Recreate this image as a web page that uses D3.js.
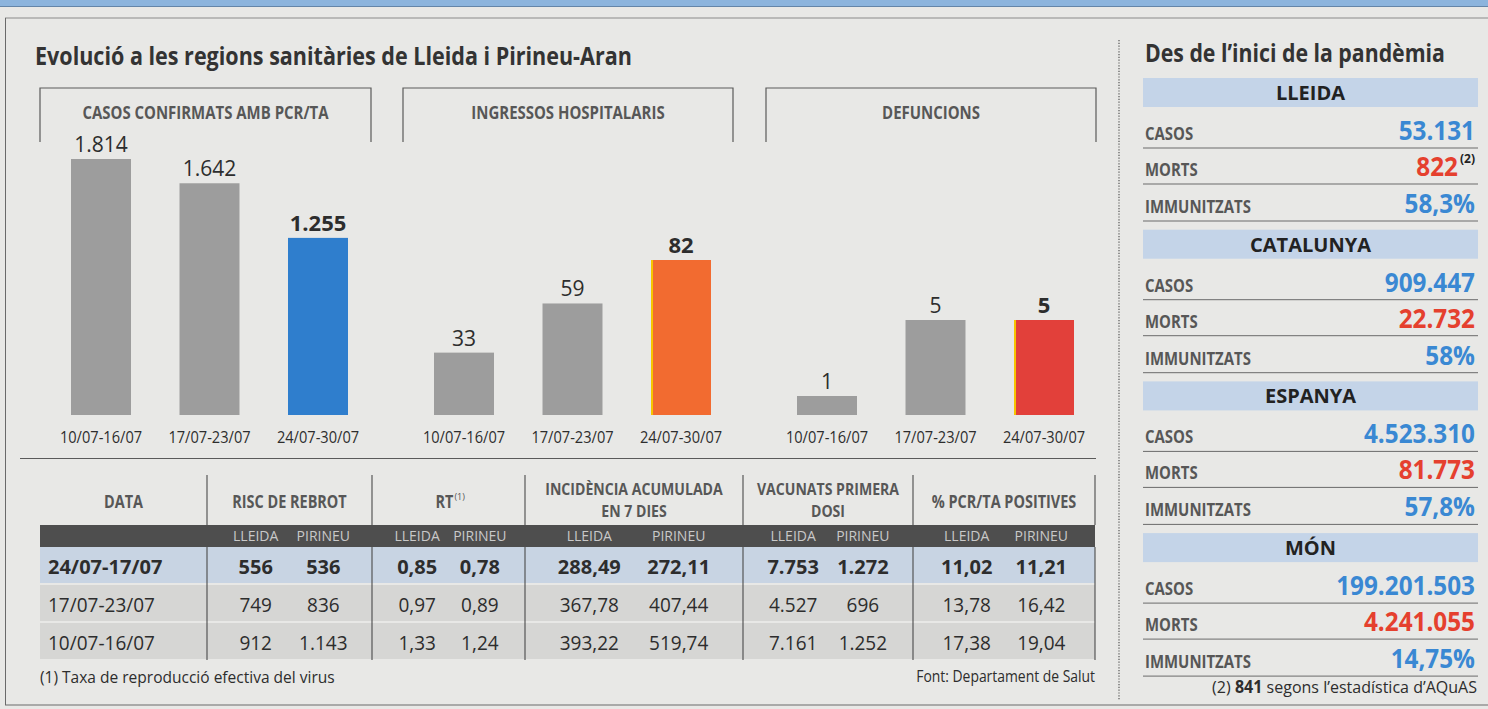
<!DOCTYPE html>
<html><head><meta charset="utf-8">
<script src="https://cdn.jsdelivr.net/npm/d3@7"></script>
<style>
html,body{margin:0;padding:0;background:#e8e8e6;}
svg{display:block;font-family:"Open Sans","Noto Sans",sans-serif;}
</style></head>
<body><svg id="c" width="1488" height="709"></svg>
<script>
// ---------- DATA ----------
const weeks = ["10/07-16/07", "17/07-23/07", "24/07-30/07"];
const chartTitles = ["CASOS CONFIRMATS AMB PCR/TA", "INGRESSOS HOSPITALARIS", "DEFUNCIONS"];
const casosSetmana = [1814, 1642, 1255];
const ingressos = [33, 59, 82];
const defuncions = [1, 5, 5];

const tableDates = ["24/07-17/07", "17/07-23/07", "10/07-16/07"];
const tableHeads = [["RISC DE REBROT"], ["RT"], ["INCIDÈNCIA ACUMULADA", "EN 7 DIES"], ["VACUNATS PRIMERA", "DOSI"], ["% PCR/TA POSITIVES"]];
const subHeads = ["LLEIDA", "PIRINEU"];
const riscLleida = [556, 749, 912];
const riscPirineu = [536, 836, 1143];
const rtLleida = [0.85, 0.97, 1.33];
const rtPirineu = [0.78, 0.89, 1.24];
const iaLleida = [288.49, 367.78, 393.22];
const iaPirineu = [272.11, 407.44, 519.74];
const vacLleida = [7753, 4527, 7161];
const vacPirineu = [1272, 696, 1252];
const pcrLleida = [11.02, 13.78, 17.38];
const pcrPirineu = [11.21, 16.42, 19.04];

const regions = ["LLEIDA", "CATALUNYA", "ESPANYA", "MÓN"];
const rowLabels = ["CASOS", "MORTS", "IMMUNITZATS"];
const totalCasos = [53131, 909447, 4523310, 199201503];
const totalMorts = [822, 22732, 81773, 4241055];
const mortsNote = ["(2)", "", "", ""];
const immunitzats = [58.3, 58, 57.8, 14.75];

// ---------- HELPERS ----------
const loc = d3.formatLocale({decimal: ",", thousands: ".", grouping: [3], currency: ["", "€"]});
const fInt = loc.format(",d");
const f2 = loc.format(",.2f");
const fPct = v => loc.format(",")(v) + "%";

const svg = d3.select("#c");
const INK = "#2d2d2d", HEAD = "#575757", GREY = "#9d9d9d";

// text drawn at (x,y), horizontally condensed by factor k (or to width fitW) via a scale transform
function T(parent, str, x, y, size, weight, fill, anchor, k, fitW) {
  const t = parent.append("text").attr("x", 0).attr("y", 0)
    .attr("transform", `translate(${x},${y})`)
    .attr("font-size", size).attr("font-weight", weight)
    .attr("fill", fill).attr("text-anchor", anchor || "start");
  if (typeof str === "string") t.text(str); else str(t);
  const w = t.node().getComputedTextLength();
  const s = fitW ? fitW / w : (k || 1);
  if (s !== 1) t.attr("transform", `translate(${x},${y}) scale(${s.toFixed(4)},1)`);
  t.property("__w", w * s);
  return t;
}

// ---------- FRAME ----------
svg.append("rect").attr("width", 1488).attr("height", 709).attr("fill", "#e8e8e6");
svg.append("rect").attr("x", 0).attr("y", 0).attr("width", 1488).attr("height", 6).attr("fill", "#8cb4dd");
svg.append("line").attr("x1", 0).attr("x2", 1488).attr("y1", 6.5).attr("y2", 6.5).attr("stroke", "#6485a8").attr("stroke-width", 1);
svg.append("line").attr("x1", 5).attr("x2", 1488).attr("y1", 18).attr("y2", 18).attr("stroke", "#8a8a8a").attr("stroke-width", 1);
svg.append("line").attr("x1", 5.5).attr("x2", 5.5).attr("y1", 18).attr("y2", 705).attr("stroke", "#6a6a6a").attr("stroke-width", 1);
svg.append("line").attr("x1", 5).attr("x2", 1488).attr("y1", 705).attr("y2", 705).attr("stroke", "#6a6a6a").attr("stroke-width", 1.2);
svg.append("line").attr("x1", 1119).attr("x2", 1119).attr("y1", 40).attr("y2", 700)
  .attr("stroke", "#555").attr("stroke-width", 1.2).attr("stroke-dasharray", "1.2,1.6");
svg.append("line").attr("x1", 20).attr("x2", 1096).attr("y1", 458.5).attr("y2", 458.5).attr("stroke", "#5a5a5a").attr("stroke-width", 1.2);

// ---------- TITLE ----------
T(svg, "Evolució a les regions sanitàries de Lleida i Pirineu-Aran", 35, 65, 25, 700, "#333", "start", null, 597);

// ---------- BAR CHARTS ----------
const base = 415;
const charts = [
  {title: chartTitles[0], values: casosSetmana, x0: 40, x1: 371, top: 159, hi: "#2f7ecd", edge: null},
  {title: chartTitles[1], values: ingressos, x0: 403, x1: 733, top: 260, hi: "#f26b30", edge: "#f6c500"},
  {title: chartTitles[2], values: defuncions, x0: 766, x1: 1096, top: 320, hi: "#e2403a", edge: "#f6c500"}
];
charts.forEach(c => {
  const g = svg.append("g");
  g.append("path").attr("d", `M${c.x0},142V88H${c.x1}V142`).attr("fill", "none").attr("stroke", "#5a5a5a").attr("stroke-width", 1.2);
  T(g, c.title, (c.x0 + c.x1) / 2, 119, 17, 700, HEAD, "middle", 0.88);
  const x = d3.scaleBand().domain(weeks).range([c.x0 + 31, c.x0 + 308]).paddingInner(0.447).paddingOuter(0);
  const y = d3.scaleLinear().domain([0, d3.max(c.values)]).range([base, c.top]);
  g.selectAll("rect.bar").data(c.values).join("rect").attr("class", "bar")
    .attr("x", (d, i) => x(weeks[i])).attr("y", d => y(d))
    .attr("width", x.bandwidth()).attr("height", d => base - y(d))
    .attr("fill", (d, i) => i === 2 ? c.hi : GREY);
  if (c.edge) {
    g.append("rect").attr("x", x(weeks[2])).attr("y", y(c.values[2])).attr("width", 2)
      .attr("height", base - y(c.values[2])).attr("fill", c.edge);
  }
  c.values.forEach((v, i) => {
    T(g, fInt(v), x(weeks[i]) + x.bandwidth() / 2, y(v) - 7, i === 2 ? 22 : 21, i === 2 ? 700 : 400, INK, "middle", 1);
  });
  const ax = g.append("g").attr("transform", `translate(0,${base})`)
    .call(d3.axisBottom(x).tickSize(0).tickPadding(0));
  ax.attr("font-size", null).attr("font-family", null);
  ax.select(".domain").remove();
  ax.selectAll("text").attr("y", 0).attr("dy", null).attr("font-size", 17).attr("fill", INK)
    .attr("transform", "translate(0,28) scale(0.86,1)");
});

// ---------- TABLE ----------
const colEdges = [40, 207, 372, 525, 743, 913, 1095];
const tableCols = [
  {a: riscLleida, b: riscPirineu, f: fInt},
  {a: rtLleida, b: rtPirineu, f: f2},
  {a: iaLleida, b: iaPirineu, f: f2},
  {a: vacLleida, b: vacPirineu, f: fInt},
  {a: pcrLleida, b: pcrPirineu, f: f2}
];
const tg = svg.append("g");
const rowTop = i => 547 + 38 * i;
tableDates.forEach((d, i) => {
  tg.append("rect").attr("x", 40).attr("y", rowTop(i)).attr("width", 1055).attr("height", 36)
    .attr("fill", i === 0 ? "#c8d4e3" : "#d6d6d4");
});
tg.append("rect").attr("x", 40).attr("y", 525).attr("width", 1055).attr("height", 22).attr("fill", "#4e4e4e");
colEdges.slice(1).forEach(x => {
  tg.append("line").attr("x1", x).attr("x2", x).attr("y1", 475).attr("y2", 525).attr("stroke", "#4a4a4a").attr("stroke-width", 1.1);
  tg.append("line").attr("x1", x).attr("x2", x).attr("y1", 547).attr("y2", 660).attr("stroke", "#4a4a4a").attr("stroke-width", 1.1);
});
// headers
T(tg, "DATA", (colEdges[0] + colEdges[1]) / 2, 508, 17, 700, HEAD, "middle", 0.85);
tableHeads.forEach((lines, j) => {
  const cx = (colEdges[j + 1] + colEdges[j + 2]) / 2;
  if (lines.length === 1) {
    const isRT = lines[0] === "RT";
    const t = T(tg, lines[0], isRT ? cx - 4 : cx, 508, 17, 700, HEAD, "middle", 0.85);
    if (isRT) T(tg, "(1)", cx - 4 + t.property("__w") / 2 + 1, 500, 9, 400, HEAD, "start", 1);
  } else {
    lines.forEach((ln, k) => T(tg, ln, cx, 495 + 22 * k, 16, 700, HEAD, "middle", 0.88));
  }
  const w = colEdges[j + 2] - colEdges[j + 1];
  const xa = cx - 0.205 * w, xb = cx + 0.205 * w;
  T(tg, subHeads[0], xa, 541, 14, 400, "#c9c9c9", "middle", 1);
  T(tg, subHeads[1], xb, 541, 14, 400, "#c9c9c9", "middle", 1);
  const col = tableCols[j];
  tableDates.forEach((d, i) => {
    const bold = i === 0;
    T(tg, col.f(col.a[i]), xa, rowTop(i) + 27, 20, bold ? 700 : 400, INK, "middle", bold ? 1 : 0.95);
    T(tg, col.f(col.b[i]), xb, rowTop(i) + 27, 20, bold ? 700 : 400, INK, "middle", bold ? 1 : 0.95);
  });
});
tableDates.forEach((d, i) => {
  T(tg, d, 48, rowTop(i) + 27, 20, i === 0 ? 700 : 400, INK, "start", i === 0 ? 1 : 0.95);
});
T(tg, "(1) Taxa de reproducció efectiva del virus", 40, 683, 17, 400, INK, "start", null, 295);
T(tg, "Font: Departament de Salut", 1095, 682, 17, 400, INK, "end", null, 179);

// ---------- RIGHT PANEL ----------
const rg = svg.append("g");
T(rg, "Des de l\u2019inici de la pandèmia", 1145, 62, 25, 700, "#333", "start", null, 300);
const RX0 = 1143, RX1 = 1478;
regions.forEach((r, k) => {
  const top = 78 + 151.7 * k;
  rg.append("rect").attr("x", RX0).attr("y", top).attr("width", RX1 - RX0).attr("height", 29).attr("fill", "#c4d4e8");
  T(rg, r, (RX0 + RX1) / 2, top + 22, 20, 700, "#222", "middle", 1);
  const vals = [fInt(totalCasos[k]), fInt(totalMorts[k]), fPct(immunitzats[k])];
  const cols = ["#3a88d3", "#e5402e", "#3a88d3"];
  const lineY = [top + 70, top + 106, top + 143];
  rowLabels.forEach((lab, i) => {
    const by = lineY[i] - 8;
    T(rg, lab, 1145, by, 18, 700, HEAD, "start", 0.83);
    let xr = 1475;
    if (i === 1 && mortsNote[k]) {
      const s = T(rg, mortsNote[k], 1475, by - 13, 12, 700, "#222", "end", 1);
      xr = 1475 - s.property("__w") - 2;
    }
    T(rg, vals[i], xr, by, 27, 700, cols[i], "end", 0.9);
    rg.append("line").attr("x1", RX0).attr("x2", RX1).attr("y1", lineY[i]).attr("y2", lineY[i])
      .attr("stroke", "#6a6a6a").attr("stroke-width", 1);
  });
});
T(rg, t => {
  t.append("tspan").text("(2) ");
  t.append("tspan").attr("font-weight", 700).text("841");
  t.append("tspan").text(" segons l\u2019estadística d\u2019AQuAS");
}, 1477, 693, 17, 400, INK, "end", null, 265);
</script>
</body></html>
